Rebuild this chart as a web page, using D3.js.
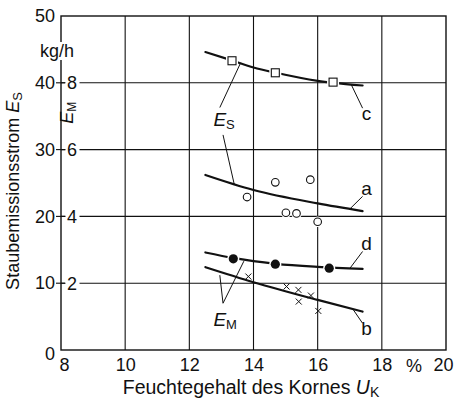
<!DOCTYPE html>
<html>
<head>
<meta charset="utf-8">
<script src="https://cdn.jsdelivr.net/npm/d3@7/dist/d3.min.js"></script>
<style>
  html, body { margin: 0; padding: 0; background: #fff; }
  svg { display: block; }
  text { font-family: "Liberation Sans", Arial, sans-serif; fill: #111; }
</style>
</head>
<body>
<svg id="chart" width="458" height="404"></svg>
<script>
// Moisture axis (%) and emission axes
const xTicks = [8, 10, 12, 14, 16, 18, 20];
const yTicksS = [0, 10, 20, 30, 40, 50];      // E_S in kg/h
const yTicksM = [2, 4, 6, 8];                 // E_M inner scale

// Fitted curves: c and a on the E_S scale, d and b on the E_M scale
const curveCx = [12.5, 13.3, 14.0, 14.7, 16.0, 16.5, 17.4];
const curveCy = [44.6, 43.4, 42.3, 41.5, 40.3, 40.0, 39.6];
const curveAx = [12.5, 14.0, 16.0, 17.4];
const curveAy = [26.2, 23.95, 21.95, 20.8];
const curveDx = [12.5, 13.4, 14.0, 14.7, 16.0, 17.4];
const curveDy = [2.92, 2.75, 2.66, 2.58, 2.49, 2.43];
const curveBx = [12.5, 14.0, 16.0, 17.4];
const curveBy = [2.48, 2.03, 1.50, 1.15];

// Measured points
const squaresX = [13.33, 14.68, 16.48];
const squaresY = [43.3, 41.5, 40.1];
const circlesX = [13.80, 14.68, 15.77, 15.01, 15.34, 16.0];
const circlesY = [22.9, 25.1, 25.5, 20.55, 20.45, 19.2];
const dotsX = [13.37, 14.68, 16.36];
const dotsY = [2.73, 2.57, 2.45];
const crossesX = [13.84, 15.03, 15.40, 15.41, 15.79, 16.02];
const crossesY = [2.20, 1.90, 1.80, 1.45, 1.63, 1.17];

const margin = { top: 16, right: 12, bottom: 54, left: 61 };
const W = 458, H = 404;
const svg = d3.select("#chart");

const x = d3.scaleLinear().domain([8, 20]).range([margin.left, W - margin.right]);
const yS = d3.scaleLinear().domain([0, 50]).range([H - margin.bottom, margin.top]);
const yM = d3.scaleLinear().domain([0, 10]).range([H - margin.bottom, margin.top]);

const ink = "#111";

// Grid
const grid = svg.append("g").attr("stroke", ink).attr("stroke-width", 1.1);
xTicks.slice(1, -1).forEach(v => {
  grid.append("line").attr("x1", x(v)).attr("x2", x(v)).attr("y1", yS(0)).attr("y2", yS(50));
});
yTicksS.slice(1, -1).forEach(v => {
  grid.append("line").attr("x1", x(8)).attr("x2", x(20)).attr("y1", yS(v)).attr("y2", yS(v));
});
svg.append("rect")
  .attr("x", x(8)).attr("y", yS(50))
  .attr("width", x(20) - x(8)).attr("height", yS(0) - yS(50))
  .attr("fill", "none").attr("stroke", ink).attr("stroke-width", 1.4);

// Left axis: E_S labels outside, E_M labels inside
const axisL = svg.append("g").attr("transform", `translate(${x(8)},0)`)
  .call(d3.axisLeft(yS).tickValues(yTicksS).tickSize(0).tickPadding(6).tickFormat(d3.format("d")));
axisL.select(".domain").remove();
axisL.selectAll("text").attr("font-size", 18).attr("fill", ink)
  .style("font-family", "'Liberation Sans',Arial,sans-serif");
axisL.selectAll(".tick").filter(d => d === 0).select("text").attr("dy", "0.55em");

yTicksS.slice(1, -1).forEach(v => {
  svg.append("line").attr("x1", x(8) - 5).attr("x2", x(8) + 4)
    .attr("y1", yS(v)).attr("y2", yS(v)).attr("stroke", ink).attr("stroke-width", 1.1);
});
yTicksM.forEach(v => {
  svg.append("rect").attr("x", x(8) + 4.5).attr("y", yM(v) - 9).attr("width", 14).attr("height", 18).attr("fill", "#fff");
  svg.append("text").attr("x", x(8) + 11).attr("y", yM(v)).attr("dy", "0.36em")
    .attr("text-anchor", "middle").attr("font-size", 18).text(v);
});

// Bottom axis labels
const axisB = svg.append("g").attr("transform", `translate(0,${yS(0)})`)
  .call(d3.axisBottom(x).tickValues(xTicks).tickSize(0).tickPadding(8).tickFormat(d3.format("d")));
axisB.select(".domain").remove();
axisB.selectAll("text").attr("font-size", 18).attr("fill", ink)
  .style("font-family", "'Liberation Sans',Arial,sans-serif");
axisB.selectAll(".tick").filter(d => d === 8).select("text").attr("dx", 3);
axisB.selectAll(".tick").filter(d => d === 20).select("text").attr("dx", -3);
svg.append("text").attr("x", x(19)).attr("y", yS(0) + 22).attr("text-anchor", "middle")
  .attr("font-size", 18).text("%");

// Units and axis titles
svg.append("rect").attr("x", 57).attr("y", 42).attr("width", 8).attr("height", 18).attr("fill", "#fff");
svg.append("text").attr("x", 40).attr("y", 57).attr("font-size", 18).text("kg/h");

const yTitle = svg.append("text")
  .attr("transform", `translate(19,${(yS(0) + yS(50)) / 2 + 8}) rotate(-90)`)
  .attr("text-anchor", "middle").attr("font-size", 18);
yTitle.append("tspan").text("Staubemissionsstrom ");
yTitle.append("tspan").attr("font-style", "italic").text("E");
yTitle.append("tspan").attr("font-size", 13).attr("dy", 3).text("S");

const yTitleM = svg.append("text")
  .attr("transform", `translate(73,${yS(35.5)}) rotate(-90)`)
  .attr("text-anchor", "middle").attr("font-size", 18);
yTitleM.append("tspan").attr("font-style", "italic").text("E");
yTitleM.append("tspan").attr("font-size", 12).attr("dy", 3).text("M");

const xTitle = svg.append("text")
  .attr("x", 251).attr("y", 394)
  .attr("text-anchor", "middle").attr("font-size", 19.5);
xTitle.append("tspan").text("Feuchtegehalt des Kornes ");
xTitle.append("tspan").attr("font-style", "italic").text("U");
xTitle.append("tspan").attr("font-size", 14).attr("dy", 3).text("K");

// Curves
const line = d3.line().curve(d3.curveMonotoneX);
function drawCurve(xs, ys, yScale) {
  svg.append("path")
    .attr("d", line(xs.map((v, i) => [x(v), yScale(ys[i])])))
    .attr("fill", "none").attr("stroke", ink).attr("stroke-width", 2.2).attr("stroke-linecap", "round");
}
drawCurve(curveCx, curveCy, yS);
drawCurve(curveAx, curveAy, yS);
drawCurve(curveDx, curveDy, yM);
drawCurve(curveBx, curveBy, yM);

// Markers
squaresX.forEach((v, i) => {
  svg.append("rect").attr("x", x(v) - 4).attr("y", yS(squaresY[i]) - 4).attr("width", 8).attr("height", 8)
    .attr("fill", "#fff").attr("stroke", "#fff").attr("stroke-width", 4);
  svg.append("rect").attr("x", x(v) - 4).attr("y", yS(squaresY[i]) - 4).attr("width", 8).attr("height", 8)
    .attr("fill", "#fff").attr("stroke", ink).attr("stroke-width", 1.1);
});
circlesX.forEach((v, i) => {
  svg.append("circle").attr("cx", x(v)).attr("cy", yS(circlesY[i])).attr("r", 3.8)
    .attr("fill", "#fff").attr("stroke", "#fff").attr("stroke-width", 3);
  svg.append("circle").attr("cx", x(v)).attr("cy", yS(circlesY[i])).attr("r", 3.8)
    .attr("fill", "#fff").attr("stroke", ink).attr("stroke-width", 1.1);
});
dotsX.forEach((v, i) => {
  svg.append("circle").attr("cx", x(v)).attr("cy", yM(dotsY[i])).attr("r", 4.6)
    .attr("fill", ink).attr("stroke", "#fff").attr("stroke-width", 3).attr("paint-order", "stroke");
});
crossesX.forEach((v, i) => {
  const cx = x(v), cy = yM(crossesY[i]), s = 3;
  svg.append("path").attr("d", `M${cx - s},${cy - s}L${cx + s},${cy + s}M${cx - s},${cy + s}L${cx + s},${cy - s}`)
    .attr("stroke", ink).attr("stroke-width", 1);
});

// Curve letters with leader lines (data coordinates)
const letterNames = ["c", "a", "d", "b"];
const letterFromX = [17.05, 17.0, 17.0, 17.1];
const letterFromY = [39.7, 21.1, 2.44, 1.22];
const letterToY = [36.2, 23.0, 2.95, 0.8];
const letterScale = [yS, yS, yM, yM];
letterNames.forEach((n, i) => {
  const ys = letterScale[i];
  const x0 = x(letterFromX[i]), y0 = ys(letterFromY[i]);
  const x1 = x(17.4), y1 = ys(letterToY[i]);
  svg.append("line").attr("x1", x0).attr("y1", y0).attr("x2", x1).attr("y2", y1)
    .attr("stroke", ink).attr("stroke-width", 1);
  const below = letterToY[i] < letterFromY[i];
  svg.append("text").attr("x", x1 + 4).attr("y", below ? y1 + 12 : y1 - 1)
    .attr("text-anchor", "middle").attr("font-size", 19).text(n);
});

// E_S and E_M group labels with their leaders
const esLabel = svg.append("text").attr("x", x(12.75)).attr("y", yS(33.6)).attr("font-size", 19);
esLabel.append("tspan").attr("font-style", "italic").text("E");
esLabel.append("tspan").attr("font-size", 13).attr("dy", 3).text("S");
[[12.95, 36.3, 13.6, 43.0], [13.05, 32.2, 13.4, 24.8]].forEach(s => {
  svg.append("line").attr("x1", x(s[0])).attr("y1", yS(s[1])).attr("x2", x(s[2])).attr("y2", yS(s[3]))
    .attr("stroke", ink).attr("stroke-width", 1);
});

const emLabel = svg.append("text").attr("x", x(12.75)).attr("y", yS(3.6)).attr("font-size", 19);
emLabel.append("tspan").attr("font-style", "italic").text("E");
emLabel.append("tspan").attr("font-size", 13).attr("dy", 3).text("M");
[[13.05, 1.4, 12.95, 2.24], [13.05, 1.4, 13.7, 2.66]].forEach(s => {
  svg.append("line").attr("x1", x(s[0])).attr("y1", yM(s[1])).attr("x2", x(s[2])).attr("y2", yM(s[3]))
    .attr("stroke", ink).attr("stroke-width", 1);
});
</script>
</body>
</html>
